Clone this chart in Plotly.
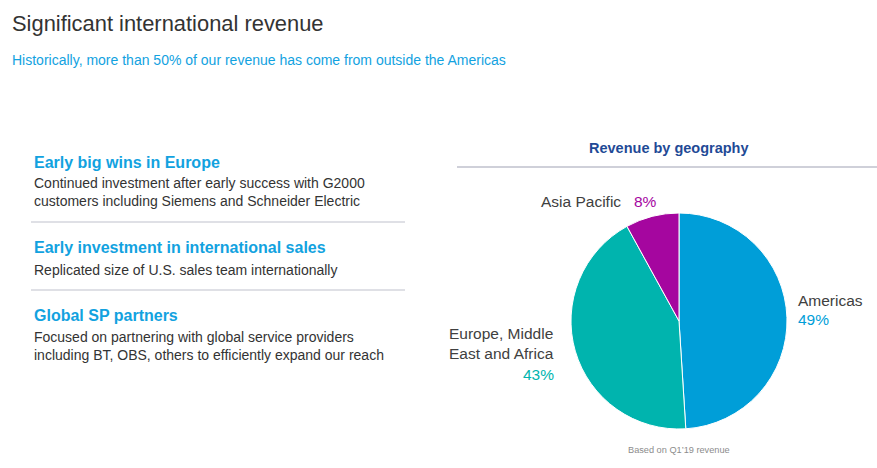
import plotly.graph_objects as go

W, H = 877, 468
FONT = "Arial, Liberation Sans, sans-serif"

regions = ["Americas", "Europe, Middle<br>East and Africa", "Asia Pacific"]
shares = [49, 43, 8]
colors = ["#009ED8", "#00B4AE", "#A5069F"]

headings = ["Early big wins in Europe", "Early investment in international sales", "Global SP partners"]
bodies = [
    "Continued investment after early success with G2000<br>customers including Siemens and Schneider Electric",
    "Replicated size of U.S. sales team internationally",
    "Focused on partnering with global service providers<br>including BT, OBS, others to efficiently expand our reach",
]

def px(x):
    return x / W

def py(y):
    return 1 - y / H

fig = go.Figure()
fig.add_trace(go.Pie(
    labels=[r.replace("<br>", " ") for r in regions], values=shares,
    sort=False, direction="clockwise", rotation=0,
    marker=dict(colors=colors, line=dict(color="white", width=1)),
    textinfo="none", hoverinfo="label+percent", showlegend=False,
    domain=dict(x=[px(571), px(787)], y=[py(429), py(213)]),
))

ann = []
ann.append(dict(x=px(10), y=py(23), text="Significant international revenue", showarrow=False,
                xanchor="left", yanchor="middle", font=dict(family=FONT, size=21.9, color="#333333")))
ann.append(dict(x=px(10), y=py(60), text="Historically, more than 50% of our revenue has come from outside the Americas",
                showarrow=False, xanchor="left", yanchor="middle", font=dict(family=FONT, size=14, color="#12A2DF")))

head_y = [162, 247, 315]
body_y = [192, 270, 346]
for hy, by, h, b in zip(head_y, body_y, headings, bodies):
    ann.append(dict(x=px(32), y=py(hy), text="<b>" + h + "</b>", showarrow=False, xanchor="left",
                    yanchor="middle", font=dict(family=FONT, size=16, color="#12A2DF")))
    ann.append(dict(x=px(32), y=py(by), text=b, showarrow=False, xanchor="left", yanchor="middle",
                    align="left", font=dict(family=FONT, size=14, color="#333333")))

ann.append(dict(x=px(669), y=py(148), text="<b>Revenue by geography</b>", showarrow=False,
                xanchor="center", yanchor="middle", font=dict(family=FONT, size=14.5, color="#1F4A96")))

# slice labels
lab_dark = "#404040"
LS = 15.5
ann.append(dict(x=px(796), y=py(300), text=regions[0], showarrow=False, xanchor="left", yanchor="middle",
                font=dict(family=FONT, size=LS, color=lab_dark)))
ann.append(dict(x=px(796), y=py(319), text=f"{shares[0]}%", showarrow=False, xanchor="left", yanchor="middle",
                font=dict(family=FONT, size=LS, color=colors[0])))
ann.append(dict(x=px(556), y=py(343), text=regions[1], showarrow=False, xanchor="right", yanchor="middle",
                align="right", font=dict(family=FONT, size=LS, color=lab_dark)))
ann.append(dict(x=px(556), y=py(374), text=f"{shares[1]}%", showarrow=False, xanchor="right", yanchor="middle",
                font=dict(family=FONT, size=LS, color=colors[1])))
ann.append(dict(x=px(623), y=py(201), text=regions[2], showarrow=False, xanchor="right", yanchor="middle",
                font=dict(family=FONT, size=LS, color=lab_dark)))
ann.append(dict(x=px(632), y=py(201), text=f"{shares[2]}%", showarrow=False, xanchor="left", yanchor="middle",
                font=dict(family=FONT, size=LS, color=colors[2])))

ann.append(dict(x=px(679), y=py(450), text="Based on Q1\u201919 revenue", showarrow=False, xanchor="center",
                yanchor="middle", font=dict(family=FONT, size=9.2, color="#8C8C8C")))

shapes = []
for y in [222, 290]:
    shapes.append(dict(type="line", xref="paper", yref="paper", x0=px(31), x1=px(405), y0=py(y), y1=py(y),
                       line=dict(color="#BFC1CC", width=1)))
shapes.append(dict(type="line", xref="paper", yref="paper", x0=px(457), x1=1, y0=py(167), y1=py(167),
                   line=dict(color="#BFC1CC", width=1.5)))

fig.update_layout(width=W, height=H, margin=dict(l=0, r=0, t=0, b=0), paper_bgcolor="white",
                  plot_bgcolor="white", annotations=ann, shapes=shapes, font=dict(family=FONT))
fig.write_html("out.html", config={"displayModeBar": False},
               post_script="document.body.style.margin='0';")
